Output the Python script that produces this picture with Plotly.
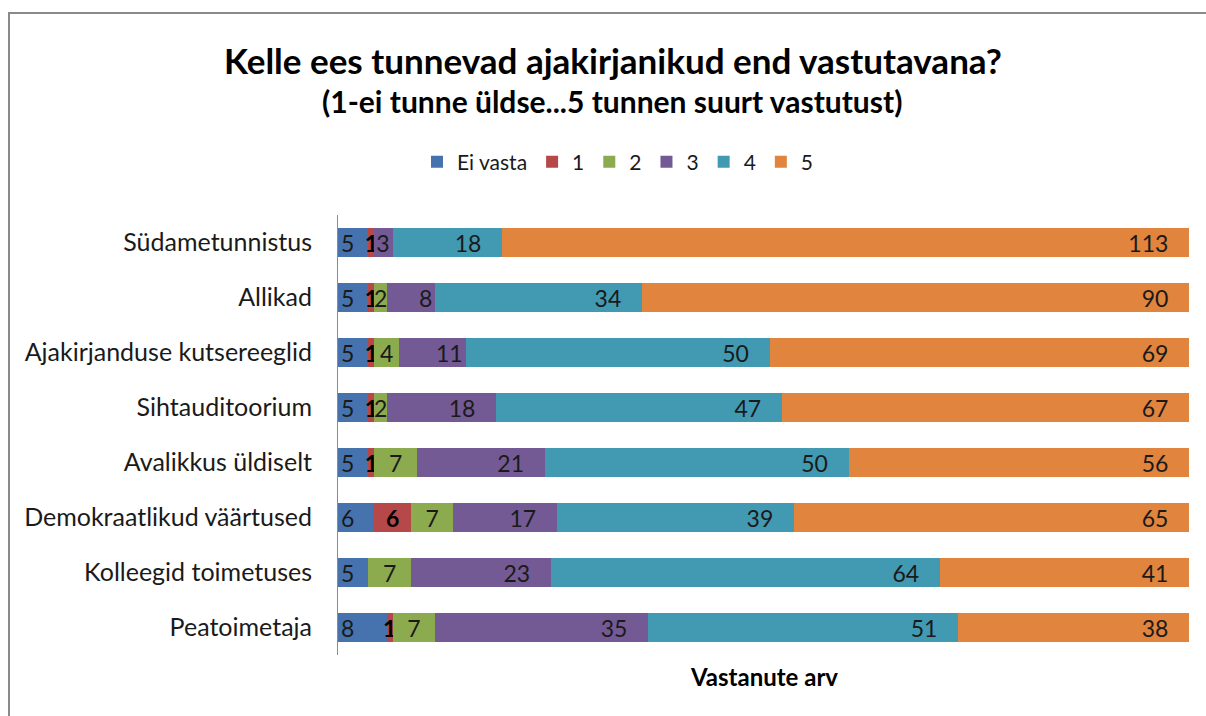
import plotly.graph_objects as go

categories = ["Südametunnistus", "Allikad", "Ajakirjanduse kutsereeglid", "Sihtauditoorium",
              "Avalikkus üldiselt", "Demokraatlikud väärtused", "Kolleegid toimetuses", "Peatoimetaja"]
series_names = ["Ei vasta", "1", "2", "3", "4", "5"]
ei_vasta = [5, 5, 5, 5, 5, 6, 5, 8]
v1 = [1, 1, 1, 1, 1, 6, 0, 1]
v2 = [0, 2, 4, 2, 7, 7, 7, 7]
v3 = [3, 8, 11, 18, 21, 17, 23, 35]
v4 = [18, 34, 50, 47, 50, 39, 64, 51]
v5 = [113, 90, 69, 67, 56, 65, 41, 38]

colors = ["#4673AE", "#B6484A", "#8CAB4F", "#735A95", "#4299B2", "#E0843E"]
anchors = ["start", "middle", "middle", "end", "end", "end"]
FONT = "Lato"
PAD = "\u00a0\u00a0\u00a0"

# figure fills the whole 1206x716 window (body margin removed in post_script)
W, H = 1206, 716
PL, PR, PT, PB = 338, 1189, 215, 655  # plot area in window pixels


def px_x(px):
    return (px - PL) / (PR - PL)


def px_y(py):
    return (PB - py) / (PB - PT)


fig = go.Figure()
for name, vals, col, anc in zip(series_names, [ei_vasta, v1, v2, v3, v4, v5], colors, anchors):
    if anc == "end":
        txt = [(str(v) + (PAD if v >= 15 else "")) if v else "" for v in vals]
    else:
        txt = [str(v) if v else "" for v in vals]
    tf = dict(family=FONT, size=23, color="#1a1a1a")
    if name == "1":
        tf = dict(family=FONT, size=23, color="#000000", weight="bold")
    fig.add_trace(go.Bar(
        name=name, y=categories, x=vals, orientation="h",
        marker=dict(color=col, line=dict(width=0)),
        text=txt,
        textposition="inside", insidetextanchor=anc, textangle=0,
        textfont=tf,
        hoverinfo="x+name",
    ))

fig.update_layout(
    width=W, height=H,
    margin=dict(l=PL, r=W - PR, t=PT, b=H - PB),
    barmode="stack", bargap=0.49,
    plot_bgcolor="white", paper_bgcolor="white",
    font=dict(family=FONT, color="#1a1a1a"),
    uniformtext=dict(minsize=23, mode="show"),
    showlegend=True,
    legend=dict(orientation="h", x=px_x(618), xanchor="center", y=px_y(162), yanchor="middle",
                font=dict(family=FONT, size=21), itemwidth=30, traceorder="normal",
                bgcolor="rgba(0,0,0,0)"),
    xaxis=dict(range=[0, 140], showticklabels=False, showgrid=False, zeroline=False,
               showline=False, ticks=""),
    yaxis=dict(autorange="reversed", showgrid=False, showline=True, linecolor="#8c8c8c",
               linewidth=1, ticks="outside", ticklen=20, tickcolor="rgba(0,0,0,0)",
               tickfont=dict(family=FONT, size=25, color="#1a1a1a")),
    annotations=[
        dict(text="<b>Kelle ees tunnevad ajakirjanikud end vastutavana?</b>", xref="paper", yref="paper",
             x=px_x(613), y=px_y(60), xanchor="center", yanchor="middle",
             showarrow=False, font=dict(family=FONT, size=35, color="#000")),
        dict(text="<b>(1-ei tunne üldse...5 tunnen suurt vastutust)</b>", xref="paper", yref="paper",
             x=px_x(612), y=px_y(101), xanchor="center", yanchor="middle",
             showarrow=False, font=dict(family=FONT, size=30, color="#000")),
        dict(text="<b>Vastanute arv</b>", xref="paper", yref="paper",
             x=0.5, y=px_y(676), xanchor="center", yanchor="middle",
             showarrow=False, font=dict(family=FONT, size=24, color="#000")),
    ],
    shapes=[
        dict(type="line", xref="paper", yref="paper", x0=px_x(8), x1=px_x(1300), y0=px_y(13), y1=px_y(13),
             line=dict(color="#8a8a8a", width=2), layer="above"),
        dict(type="line", xref="paper", yref="paper", x0=px_x(9), x1=px_x(9), y0=px_y(13), y1=px_y(800),
             line=dict(color="#8a8a8a", width=2), layer="above"),
    ],
)

fig.write_html(
    "out.html",
    config={"displayModeBar": False},
    post_script="document.documentElement.style.overflow='hidden';"
                "document.body.style.margin='0';document.body.style.overflow='hidden';",
)
